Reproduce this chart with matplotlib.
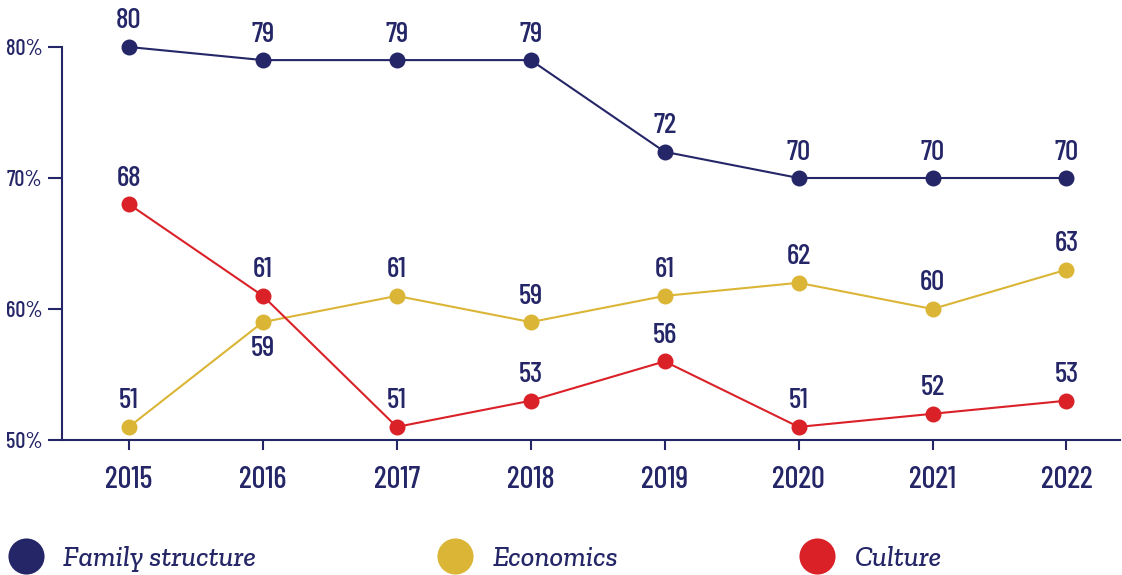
import matplotlib
matplotlib.use('Agg')
import matplotlib.pyplot as plt
from matplotlib.lines import Line2D
from matplotlib import font_manager

years = [2015, 2016, 2017, 2018, 2019, 2020, 2021, 2022]
family = [80, 79, 79, 79, 72, 70, 70, 70]
economics = [51, 59, 61, 59, 61, 62, 60, 63]
culture = [68, 61, 51, 53, 56, 51, 52, 53]
series_names = ['Family structure', 'Economics', 'Culture']
y_ticks = [50, 60, 70, 80]

NAVY = '#252668'
GOLD = '#dbb536'
RED = '#da2128'


def pick(cands, style='normal'):
    have = {f.name for f in font_manager.fontManager.ttflist if f.style == style}
    for c in cands:
        if c in have:
            return c
    return 'DejaVu Sans'


num_font = pick(['Barlow Condensed', 'Oswald', 'Fira Sans Extra Condensed'])
leg_font = pick(['Zilla Slab', 'Noticia Text', 'Arvo', 'Merriweather', 'DejaVu Serif'], 'italic')

fig = plt.figure(figsize=(11.22, 5.75), dpi=100)
ax = fig.add_axes([62 / 1122, 1 - 440 / 575, 1058 / 1122, 393 / 575])

series = [(family, NAVY), (economics, GOLD), (culture, RED)]
for vals, col in series:
    ax.plot(years, vals, color=col, lw=1.5, marker='o', ms=11.5,
            markeredgewidth=0, clip_on=False, zorder=3)

for vals, col in series:
    for x, v in zip(years, vals):
        below = (vals is economics and x == 2016)
        off = -10 if below else 9
        ax.annotate(str(v), (x, v), xytext=(0, off), textcoords='offset points',
                    ha='center', va='top' if below else 'bottom',
                    fontsize=21, color=NAVY, family=num_font, weight=500,
                    annotation_clip=False)

ax.set_xlim(2014.5, 2022.4)
ax.set_ylim(50, 80)
ax.set_xticks(years)
ax.set_xticklabels([str(y) for y in years])
ax.set_yticks(y_ticks)
ax.set_yticklabels([f'{t}%' for t in y_ticks])

for s in ['top', 'right']:
    ax.spines[s].set_visible(False)
for s in ['left', 'bottom']:
    ax.spines[s].set_color(NAVY)
    ax.spines[s].set_linewidth(1.5)

ax.tick_params(axis='x', colors=NAVY, length=7, width=1.5, pad=12, labelsize=22)
ax.tick_params(axis='y', colors=NAVY, length=10, width=1.5, pad=4, labelsize=16)
for lab in ax.get_xticklabels() + ax.get_yticklabels():
    lab.set_family(num_font)
    lab.set_weight(500)

handles = [Line2D([], [], ls='none', marker='o', ms=26, markeredgewidth=0, color=c)
           for c in (NAVY, GOLD, RED)]
leg = fig.legend(handles, series_names, loc='center left',
                 bbox_to_anchor=(0.0, 1 - 559 / 575), ncol=3, frameon=False,
                 handlelength=1.6, handletextpad=0.51, columnspacing=6.2,
                 borderaxespad=0, borderpad=0.1,
                 prop={'family': leg_font, 'style': 'italic', 'size': 20.5, 'weight': 500})
for t in leg.get_texts():
    t.set_color(NAVY)

fig.savefig('out.png', dpi=100)
